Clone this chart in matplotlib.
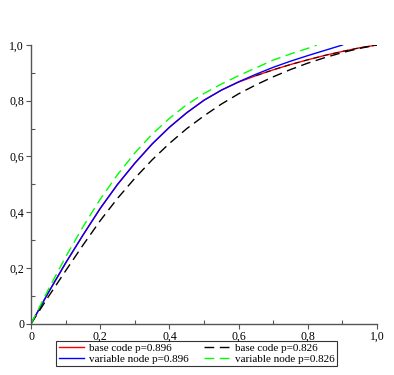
import matplotlib.pyplot as plt
from matplotlib.ticker import MultipleLocator, FuncFormatter

# curves
x_base_896 = [0, 0.05, 0.1, 0.15, 0.2, 0.25, 0.3, 0.35, 0.4, 0.45, 0.5, 0.55, 0.6,
              0.65, 0.7, 0.75, 0.8, 0.85, 0.9, 0.95, 1.0]
y_base_896 = [0, 0.112, 0.218, 0.318, 0.414, 0.500, 0.576, 0.645, 0.705, 0.757, 0.802, 0.838, 0.867,
              0.89, 0.911, 0.93, 0.947, 0.963, 0.977, 0.99, 1.0]

x_var_896 = [0, 0.05, 0.1, 0.15, 0.2, 0.25, 0.3, 0.35, 0.4, 0.45, 0.5, 0.55, 0.6,
             0.65, 0.7, 0.75, 0.8, 0.85, 0.9]
y_var_896 = [0, 0.112, 0.218, 0.318, 0.414, 0.500, 0.576, 0.645, 0.705, 0.757, 0.802, 0.838, 0.868,
             0.895, 0.92, 0.942, 0.962, 0.981, 1.0]

x_base_826 = [0, 0.05, 0.1, 0.15, 0.2, 0.25, 0.3, 0.35, 0.4, 0.45, 0.5, 0.55, 0.6,
              0.65, 0.7, 0.75, 0.8, 0.85, 0.9, 0.95, 1.0]
y_base_826 = [0, 0.097, 0.19, 0.282, 0.37, 0.45, 0.522, 0.588, 0.647, 0.70, 0.746, 0.788, 0.825,
              0.857, 0.886, 0.912, 0.935, 0.955, 0.973, 0.988, 1.0]

x_var_826 = [0, 0.05, 0.1, 0.15, 0.2, 0.25, 0.3, 0.35, 0.4, 0.45, 0.5, 0.55, 0.6,
             0.65, 0.7, 0.75, 0.8, 0.826]
y_var_826 = [0, 0.123, 0.24, 0.348, 0.447, 0.535, 0.613, 0.68, 0.737, 0.786, 0.826, 0.86, 0.89,
             0.918, 0.946, 0.968, 0.988, 1.0]

ticks = [0, 0.2, 0.4, 0.6, 0.8, 1.0]

plt.rcParams['font.family'] = 'Liberation Serif'

fig = plt.figure(figsize=(3.94, 3.75), dpi=100)
ax = fig.add_axes([0.079, 0.137, 0.878, 0.743])

ax.plot(x_base_896, y_base_896, color='#ff0000', lw=1, label='base code p=0.896')
ax.plot(x_var_896, y_var_896, color='#0000ff', lw=1, label='variable node p=0.896')
ax.plot(x_base_826, y_base_826, color='black', lw=1, dashes=(7, 4), label='base code p=0.826')
ax.plot(x_var_826, y_var_826, color='#00ff00', lw=1, dashes=(7, 4), label='variable node p=0.826')
# dark dashes sitting on the red tail in the original
ax.plot(x_base_896[13:], y_base_896[13:], color='black', lw=0.8, dashes=(5, 4), alpha=0.8)

ax.set_xlim(0, 1.0)
ax.set_ylim(0, 1.0)
ax.set_xticks(ticks)
ax.set_yticks(ticks)
fmt = FuncFormatter(lambda v, p: '0' if v == 0 else ('%.1f' % v).replace('.', ','))
ax.xaxis.set_major_formatter(fmt)
ax.yaxis.set_major_formatter(fmt)
ax.xaxis.set_minor_locator(MultipleLocator(0.1))
ax.yaxis.set_minor_locator(MultipleLocator(0.1))
ax.tick_params(which='major', direction='out', length=3.5, width=0.8, color='#555555',
               labelsize=8.5, pad=1.5)
ax.tick_params(which='minor', direction='in', length=3, width=0.8, color='#555555')

for s in ['top', 'right']:
    ax.spines[s].set_visible(False)
for s in ['left', 'bottom']:
    ax.spines[s].set_color('#555555')
    ax.spines[s].set_linewidth(1)

h, l = ax.get_legend_handles_labels()
leg = fig.legend(h, l, ncol=2,
                 loc='upper center', bbox_to_anchor=(0.499, 0.09), fontsize=8,
                 frameon=True, fancybox=False, edgecolor='black', handlelength=2.3,
                 columnspacing=1.4, handletextpad=0.45, borderpad=0.2, labelspacing=0.1,
                 borderaxespad=0)
leg.get_frame().set_linewidth(0.8)

fig.savefig('out.png', dpi=100)
